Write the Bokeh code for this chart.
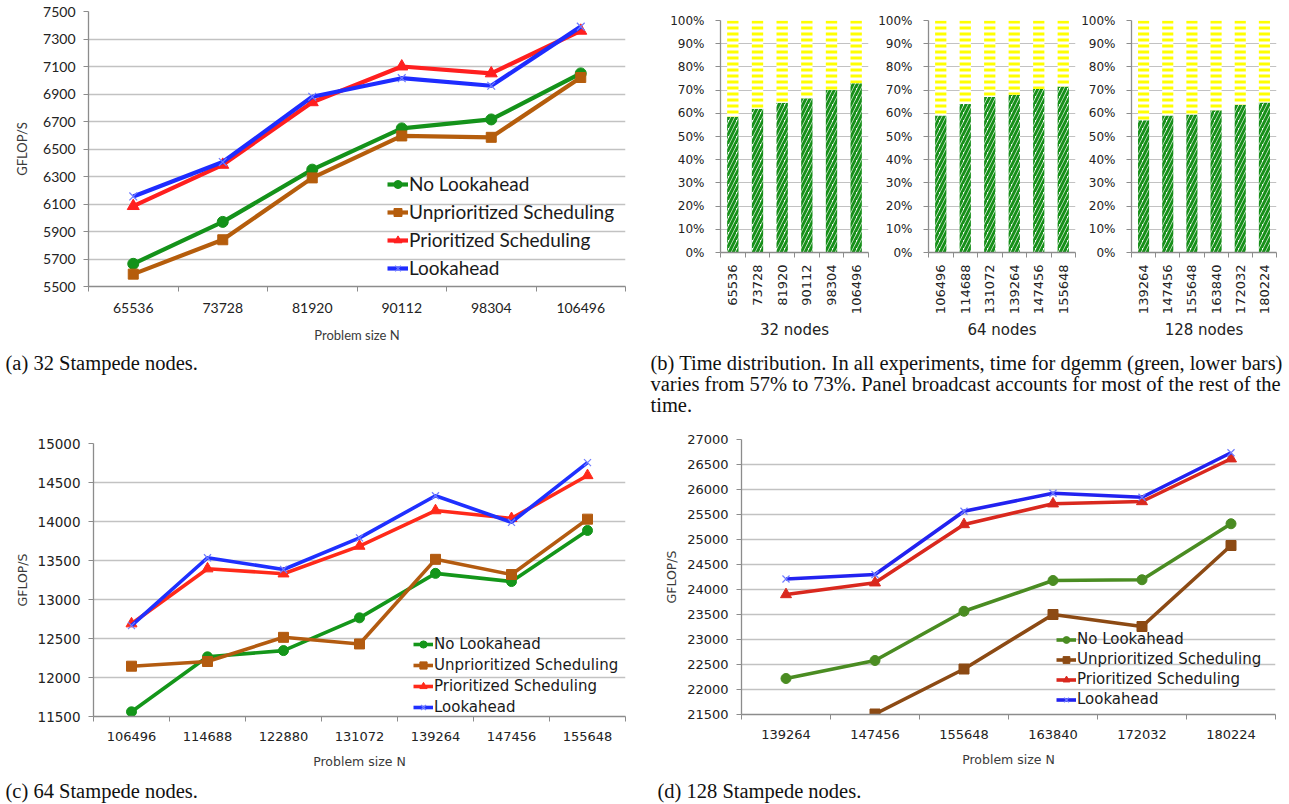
import math
from bokeh.plotting import figure
from bokeh.models import (Range1d, FixedTicker, Legend, LegendItem, Label,
                          NumeralTickFormatter, ColumnDataSource)
from bokeh.layouts import row, column
from bokeh.embed import file_html
from bokeh.resources import INLINE

nan = float("nan")

# ---------------- data ----------------
SERIES = ["No Lookahead", "Unprioritized Scheduling", "Prioritized Scheduling", "Lookahead"]
MARKERS = ["circle", "square", "triangle", "x"]

# (a) 32 Stampede nodes
a_N = ["65536", "73728", "81920", "90112", "98304", "106496"]
a_no_lookahead = [5665, 5970, 6350, 6650, 6715, 7050]
a_unprioritized = [5590, 5840, 6290, 6595, 6585, 7020]
a_prioritized = [6085, 6385, 6840, 7100, 7050, 7360]
a_lookahead = [6155, 6405, 6880, 7015, 6960, 7390]
a_yticks = [5500, 5700, 5900, 6100, 6300, 6500, 6700, 6900, 7100, 7300, 7500]

# (c) 64 Stampede nodes
c_N = ["106496", "114688", "122880", "131072", "139264", "147456", "155648"]
c_no_lookahead = [11560, 12265, 12345, 12765, 13335, 13230, 13885]
c_unprioritized = [12145, 12205, 12515, 12430, 13515, 13320, 14030]
c_prioritized = [12690, 13395, 13330, 13685, 14140, 14040, 14590]
c_lookahead = [12665, 13535, 13385, 13790, 14330, 13990, 14755]
c_yticks = [11500, 12000, 12500, 13000, 13500, 14000, 14500, 15000]

# (d) 128 Stampede nodes
d_N = ["139264", "147456", "155648", "163840", "172032", "180224"]
d_no_lookahead = [22220, 22580, 23565, 24180, 24195, 25315]
d_unprioritized = [nan, 21510, 22410, 23500, 23260, 24880]
d_prioritized = [23900, 24135, 25300, 25715, 25760, 26615]
d_lookahead = [24210, 24300, 25565, 25925, 25845, 26735]
d_yticks = [21500, 22000, 22500, 23000, 23500, 24000, 24500, 25000, 25500, 26000, 26500, 27000]

# (b) time distribution (dgemm share)
b_groups = ["32 nodes", "64 nodes", "128 nodes"]
b_N = [["65536", "73728", "81920", "90112", "98304", "106496"],
       ["106496", "114688", "131072", "139264", "147456", "155648"],
       ["139264", "147456", "155648", "163840", "172032", "180224"]]
b_dgemm = [[0.585, 0.62, 0.645, 0.665, 0.70, 0.73],
           [0.59, 0.64, 0.67, 0.68, 0.705, 0.715],
           [0.57, 0.59, 0.595, 0.613, 0.637, 0.647]]
b_yticks = [0.0, 0.1, 0.2, 0.3, 0.4, 0.5, 0.6, 0.7, 0.8, 0.9, 1.0]

CAP_A = "(a) 32 Stampede nodes."
CAP_B = ["(b) Time distribution. In all experiments, time for dgemm (green, lower bars)",
         "varies from 57% to 73%. Panel broadcast accounts for most of the rest of the",
         "time."]
CAP_C = "(c) 64 Stampede nodes."
CAP_D = "(d) 128 Stampede nodes."

# ---------------- style ----------------
GRID = "#c2c2c2"
AXIS = "#8c8c8c"
CAP_FONT = "Liberation Serif"
CAP_SIZE = "20.5px"


def base_fig(w, h, bl, br, bt, bb, xr, yr):
    p = figure(width=w, height=h, x_range=xr, y_range=yr, output_backend="svg",
               toolbar_location=None, min_border_left=bl, min_border_right=br,
               min_border_top=bt, min_border_bottom=bb, frame_align=False)
    p.outline_line_color = None
    p.background_fill_color = "white"
    p.border_fill_color = "white"
    p.xgrid.visible = False
    return p


def style_axes(p, yt, n, cats, font, ysize, xsize, lblsize, ytick_color="#222222"):
    yticker = FixedTicker(ticks=yt, minor_ticks=[])
    p.yaxis.ticker = yticker
    p.ygrid.ticker = yticker
    p.ygrid.grid_line_color = GRID
    p.ygrid.grid_line_width = 1.5
    xs = list(range(1, n + 1))
    p.xaxis.ticker = FixedTicker(ticks=xs, minor_ticks=[k + 0.5 for k in range(n + 1)])
    p.xaxis.major_label_overrides = {k + 1: cats[k] for k in range(n)}
    for ax in (p.xaxis[0], p.yaxis[0]):
        ax.axis_line_color = AXIS
        ax.axis_line_width = 1.3
        ax.major_label_text_font = font
        ax.major_label_text_color = ytick_color
        ax.axis_label_text_font = font
        ax.axis_label_text_font_style = "normal"
        ax.axis_label_text_font_size = lblsize
        ax.axis_label_text_color = "#3a3a3a"
    p.yaxis.major_label_text_font_size = ysize
    p.xaxis.major_label_text_font_size = xsize
    p.yaxis.major_tick_line_color = AXIS
    p.yaxis.major_tick_out = 5
    p.yaxis.major_tick_in = 0
    p.yaxis.minor_tick_line_color = None
    p.xaxis.major_tick_line_color = None
    p.xaxis.major_tick_out = 5
    p.xaxis.major_tick_in = 0
    p.xaxis.minor_tick_line_color = AXIS
    p.xaxis.minor_tick_out = 5
    p.xaxis.minor_tick_in = 0
    return xs


def line_panel(w, h, borders, cats, series, colors, yt, font, ysize, xsize, lblsize,
               lw, msizes, leg_loc, leg_font_size, leg_gh, leg_sp, leg_gw, ystand, xstand, lstand_x, lstand_y):
    bl, br, bt, bb = borders
    n = len(cats)
    p = base_fig(w, h, bl, br, bt, bb, Range1d(0.5, n + 0.5), Range1d(yt[0], yt[-1]))
    xs = style_axes(p, yt, n, cats, font, ysize, xsize, lblsize)
    p.yaxis.axis_label = "GFLOP/S"
    p.xaxis.axis_label = "Problem size N"
    p.yaxis.major_label_standoff = ystand
    p.xaxis.major_label_standoff = xstand
    p.xaxis.axis_label_standoff = lstand_x
    p.yaxis.axis_label_standoff = lstand_y
    items = []
    for name, vals, col, mk, ms in zip(SERIES, series, colors, MARKERS, msizes):
        src = ColumnDataSource(dict(x=xs, y=vals))
        rl = p.line("x", "y", source=src, line_width=lw, line_color=col, line_join="round")
        if mk == "x":
            rs = p.scatter("x", "y", source=src, marker="x", size=ms, line_color="#6f7cff",
                           line_width=1.2, fill_color=None)
        else:
            rs = p.scatter("x", "y", source=src, marker=mk, size=ms, line_color=col, fill_color=col)
        items.append(LegendItem(label=name, renderers=[rl, rs]))
    leg = Legend(items=items, location=leg_loc, glyph_width=leg_gw, glyph_height=leg_gh,
                 label_height=leg_gh, label_standoff=1, spacing=leg_sp, padding=0, margin=0,
                 border_line_color=None, background_fill_alpha=0,
                 label_text_font=font, label_text_font_size=leg_font_size,
                 label_text_color="#1a1a1a")
    p.add_layout(leg)
    return p


def bar_panel(i, w, bl, br):
    cats = b_N[i]
    n = len(cats)
    p = base_fig(w, 342, bl, br, 20, 83, Range1d(0.5, n + 0.5), Range1d(0, 1))
    xs = style_axes(p, b_yticks, n, cats, "DejaVu Sans", "12px", "13px", "15px")
    p.yaxis.formatter = NumeralTickFormatter(format="0%")
    p.yaxis.major_label_standoff = 11
    p.xaxis.major_label_orientation = math.pi / 2
    p.xaxis.major_label_standoff = 7
    p.xaxis.axis_label = b_groups[i]
    p.xaxis.axis_label_standoff = 4
    p.xaxis.axis_label_text_color = "#222222"
    p.ygrid.grid_line_width = 1.2
    src = ColumnDataSource(dict(x=xs, dgemm=b_dgemm[i], rest=[1 - v for v in b_dgemm[i]]))
    p.vbar_stack(["dgemm", "rest"], x="x", width=0.46, source=src, fill_color="white",
                 line_color=None,
                 hatch_pattern=["right_diagonal_line", "horizontal_line"],
                 hatch_color=["#17901a", "#ffff00"],
                 hatch_scale=[8, 6], hatch_weight=[3, 3])
    return p


def caption_fig(w, h, lines, x_target, ys):
    p = figure(width=w, height=h, x_range=Range1d(0, w), y_range=Range1d(0, h),
               output_backend="svg", toolbar_location=None, min_border=0,
               x_axis_location=None, y_axis_location=None, frame_align=False)
    p.outline_line_color = None
    p.grid.visible = False
    for txt, y in zip(lines, ys):
        p.add_layout(Label(x=x_target, y=h - y, text=txt, text_font=CAP_FONT,
                           text_font_size=CAP_SIZE, text_baseline="middle", text_align="left",
                           text_color="#111111"))
    return p


# ---------------- panels ----------------
fig_a = line_panel(640, 345, (88, 15, 11, 59), a_N,
                   [a_no_lookahead, a_unprioritized, a_prioritized, a_lookahead],
                   ["#14921a", "#b55d0c", "#ff1f1f", "#1e2cff"], a_yticks, "Lato",
                   "14px", "14px", "13px", 4.2, [11, 10, 12, 11], (299, 7), "19px", 20, 5, 21,
                   8, 11, 11, 10)
cap_a = caption_fig(640, 75, [CAP_A], 5, [17])

fb1 = bar_panel(0, 235, 80, 7)
fb2 = bar_panel(1, 203, 52, 3)
fb3 = bar_panel(2, 211, 52, 13)
cap_b = caption_fig(649, 78, CAP_B, 10, [20, 41, 62])

fig_c = line_panel(640, 360, (93, 15, 23, 64), c_N,
                   [c_no_lookahead, c_unprioritized, c_prioritized, c_lookahead],
                   ["#14961a", "#b35b10", "#ff2a1a", "#1f30ff"], c_yticks, "DejaVu Sans",
                   "13.5px", "13px", "12.5px", 3.6, [10, 10, 11, 10], (320, 0), "15px", 18, 3, 20,
                   8, 10, 10, 5)
cap_c = caption_fig(640, 24, [CAP_C], 5, [10])

fig_d = line_panel(649, 360, (101, 14, 19, 66), d_N,
                   [d_no_lookahead, d_unprioritized, d_prioritized, d_lookahead],
                   ["#4a8c22", "#8c4a14", "#d9281e", "#2222f0"], d_yticks, "DejaVu Sans",
                   "13px", "13px", "12.5px", 3.6, [10, 10, 11, 10], (315, 6), "15px", 17, 2, 20,
                   8, 10, 10, 5)
cap_d = caption_fig(649, 24, [CAP_D], 17, [10])

layout = column(
    row(column(fig_a, cap_a), column(row(fb1, fb2, fb3), cap_b)),
    row(column(fig_c, cap_c), column(fig_d, cap_d)),
)

open("out.html", "w").write(file_html(layout, INLINE))
